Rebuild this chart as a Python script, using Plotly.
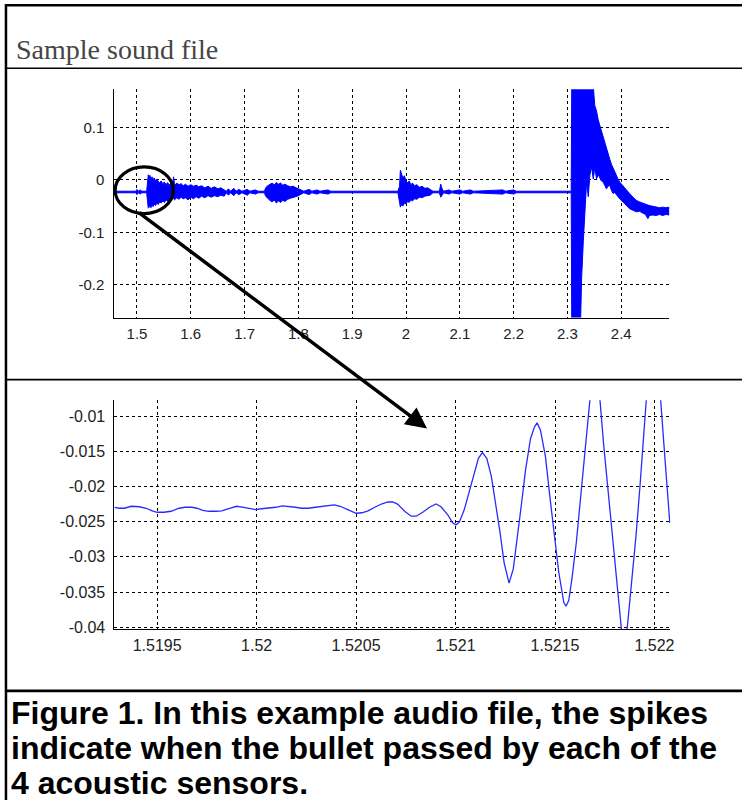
import plotly.graph_objects as go

# ---------------- data: overview recording (envelope of the waveform) ----------------
top_t = [1.458, 1.498, 1.500, 1.503, 1.506, 1.509, 1.518,
         1.5196, 1.5210, 1.5225, 1.5240, 1.5260, 1.5280, 1.5300, 1.5320, 1.5345, 1.5370,
         1.5395, 1.5420, 1.5450, 1.5480, 1.5510, 1.5540, 1.5570, 1.5600, 1.5630, 1.5660,
         1.5680, 1.5700, 1.5740, 1.5780, 1.5820, 1.5860, 1.5900, 1.5950, 1.6000, 1.6050,
         1.6100, 1.6150, 1.6200, 1.6260, 1.6320, 1.6380, 1.6440, 1.6500, 1.6560, 1.6620,
         1.6660, 1.6700, 1.6740, 1.6800, 1.6840, 1.6900, 1.6950, 1.7050, 1.7100, 1.7200,
         1.7250, 1.7370,
         1.7390, 1.7430, 1.7470, 1.7510, 1.7550, 1.7590, 1.7630, 1.7670, 1.7710, 1.7750,
         1.7800, 1.7850, 1.7900, 1.7950, 1.8000, 1.8050, 1.8100, 1.8200, 1.8250, 1.8350,
         1.8400, 1.8550, 1.8600, 1.9850,
         1.9880, 1.9895, 1.9915, 1.9940, 1.9970, 2.0000, 2.0030, 2.0060, 2.0090, 2.0120,
         2.0160, 2.0200, 2.0250, 2.0300, 2.0350, 2.0400, 2.0450, 2.0500, 2.0620, 2.0645,
         2.0670, 2.0700, 2.0800, 2.0850, 2.1000, 2.1050, 2.1200, 2.1250, 2.1800, 2.1850,
         2.2000, 2.2050, 2.3070,
         2.3080, 2.3245, 2.3264, 2.3295, 2.3325, 2.3356, 2.3387, 2.3417, 2.3448, 2.3480,
         2.3509, 2.3541, 2.3572, 2.3602, 2.3633, 2.3664, 2.3695, 2.3725, 2.3755, 2.3786,
         2.3818, 2.3849, 2.3880, 2.3910, 2.3940, 2.3971, 2.4003, 2.4034, 2.4065, 2.4095,
         2.4125, 2.4156, 2.4218, 2.4280, 2.4340, 2.4403, 2.4450, 2.4496, 2.4525, 2.4588,
         2.4649, 2.4710, 2.4773, 2.4830, 2.4895]
top_hi = [-0.0215, -0.0215, -0.018, -0.0215, -0.019, -0.0215, -0.0215,
          0.006, 0.010, 0.004, 0.009, 0.001, 0.006, 0.000, 0.004, -0.002, 0.002,
          -0.003, -0.005, -0.002, -0.007, -0.004, -0.009, -0.005, -0.010, -0.006, -0.011,
          0.006, -0.010, -0.006, -0.009, -0.007, -0.011, -0.008, -0.012, -0.009, -0.012,
          -0.010, -0.013, -0.011, -0.015, -0.012, -0.016, -0.013, -0.017, -0.015, -0.018,
          -0.0215, -0.017, -0.0215, -0.016, -0.0215, -0.018, -0.0215, -0.018, -0.0215, -0.019,
          -0.0215, -0.0215,
          -0.015, -0.011, -0.008, -0.006, -0.009, -0.005, -0.008, -0.006, -0.010, -0.008,
          -0.011, -0.013, -0.012, -0.015, -0.017, -0.019, -0.0215, -0.018, -0.0215, -0.019,
          -0.0215, -0.019, -0.0215, -0.0215,
          -0.012, 0.019, 0.012, 0.004, 0.008, -0.002, -0.005, -0.002, -0.009, -0.006,
          -0.011, -0.009, -0.014, -0.012, -0.016, -0.015, -0.018, -0.0215, -0.0215, -0.008,
          -0.017, -0.0215, -0.019, -0.0215, -0.019, -0.0215, -0.019, -0.0215, -0.019, -0.0215,
          -0.019, -0.0215, -0.0215,
          0.180, 0.180, 0.180, 0.180, 0.180, 0.180, 0.180, 0.180, 0.180, 0.180,
          0.142, 0.132, 0.115, 0.104, 0.092, 0.082, 0.070, 0.063, 0.050, 0.040,
          0.030, 0.022, 0.015, 0.009, 0.002, -0.004, -0.008, -0.011, -0.016, -0.020,
          -0.023, -0.026, -0.033, -0.039, -0.042, -0.045, -0.047, -0.048, -0.049, -0.050,
          -0.052, -0.053, -0.052, -0.053, -0.052]
top_lo = [-0.0245, -0.0245, -0.028, -0.0245, -0.027, -0.0245, -0.0245,
          -0.050, -0.054, -0.052, -0.050, -0.053, -0.048, -0.051, -0.046, -0.049, -0.044,
          -0.047, -0.042, -0.044, -0.040, -0.043, -0.038, -0.041, -0.037, -0.039, -0.035,
          -0.036, -0.038, -0.034, -0.037, -0.033, -0.036, -0.034, -0.038, -0.033, -0.036,
          -0.032, -0.035, -0.031, -0.034, -0.030, -0.033, -0.030, -0.032, -0.029, -0.031,
          -0.0245, -0.029, -0.0245, -0.030, -0.0245, -0.028, -0.0245, -0.029, -0.0245, -0.027,
          -0.0245, -0.0245,
          -0.031, -0.036, -0.039, -0.042, -0.038, -0.044, -0.040, -0.043, -0.039, -0.041,
          -0.037, -0.035, -0.034, -0.032, -0.030, -0.028, -0.0245, -0.028, -0.0245, -0.027,
          -0.0245, -0.027, -0.0245, -0.0245,
          -0.040, -0.052, -0.047, -0.050, -0.044, -0.046, -0.041, -0.043, -0.038, -0.040,
          -0.036, -0.037, -0.033, -0.034, -0.031, -0.030, -0.029, -0.0245, -0.0245, -0.033,
          -0.029, -0.0245, -0.027, -0.0245, -0.027, -0.0245, -0.027, -0.0245, -0.027, -0.0245,
          -0.027, -0.0245, -0.0245,
          -0.270, -0.270, -0.187, -0.118, -0.061, -0.004, -0.032, 0.009, 0.025, 0.002,
          0.024, 0.002, 0.010, 0.005, -0.002, -0.004, -0.010, -0.017, -0.012, -0.010,
          -0.020, -0.026, -0.024, -0.029, -0.032, -0.036, -0.039, -0.042, -0.045, -0.048,
          -0.052, -0.055, -0.058, -0.061, -0.060, -0.064, -0.066, -0.074, -0.068, -0.067,
          -0.068, -0.066, -0.068, -0.066, -0.067]

top_xticks = [1.5, 1.6, 1.7, 1.8, 1.9, 2.0, 2.1, 2.2, 2.3, 2.4]
top_xticklabels = ["1.5", "1.6", "1.7", "1.8", "1.9", "2", "2.1", "2.2", "2.3", "2.4"]
top_yticks = [-0.2, -0.1, 0.0, 0.1]
top_yticklabels = ["-0.2", "-0.1", "0", "0.1"]

# ---------------- data: zoomed detail ----------------
zoom_t = [1.519285, 1.51931, 1.519335, 1.51937, 1.51941, 1.519445, 1.519475, 1.5195,
          1.519535, 1.51957, 1.51961, 1.51964, 1.519675, 1.5197, 1.51973, 1.51976,
          1.519795, 1.519825, 1.51986, 1.5199, 1.519935, 1.51997, 1.519995, 1.520025,
          1.52006, 1.520095, 1.52013, 1.52016, 1.520195, 1.520225, 1.52026, 1.520295,
          1.520325, 1.52036, 1.52039, 1.52042, 1.52045, 1.52048, 1.5205, 1.52053,
          1.52056, 1.520594, 1.520627, 1.52066, 1.520685, 1.52071, 1.520744, 1.520777,
          1.520802, 1.520835, 1.520869, 1.520902, 1.520927, 1.52096, 1.520985, 1.521002,
          1.521019, 1.521044, 1.521069, 1.521094, 1.521115, 1.521135, 1.521157, 1.52118,
          1.521202, 1.521224, 1.521244, 1.521269, 1.52129, 1.52131, 1.52133, 1.521352,
          1.521377, 1.521397, 1.52141, 1.521427, 1.521452, 1.521474, 1.521494, 1.521519,
          1.521544, 1.521555, 1.521569, 1.521585, 1.521607, 1.521627, 1.521647, 1.521665,
          1.52168, 1.52169, 1.5217, 1.52171, 1.521722, 1.521744, 1.521764, 1.521785,
          1.521807, 1.521827, 1.521838, 1.521848, 1.521858, 1.521869, 1.521885, 1.521907,
          1.521927, 1.521947, 1.52196, 1.521985, 1.521995, 1.522005, 1.52203, 1.522047,
          1.522064, 1.522077]
zoom_v = [-0.02295, -0.02309, -0.02309, -0.02281, -0.02288, -0.02309, -0.02347, -0.02366,
          -0.02366, -0.02352, -0.02309, -0.02295, -0.02295, -0.02309, -0.02338, -0.02352,
          -0.02352, -0.02345, -0.02316, -0.02281, -0.02295, -0.02309, -0.02328, -0.02316,
          -0.02309, -0.02295, -0.02274, -0.02281, -0.02295, -0.02309, -0.02309, -0.02295,
          -0.02281, -0.02267, -0.0226, -0.02281, -0.02316, -0.02352, -0.0238, -0.02373,
          -0.02345, -0.02295, -0.02249, -0.0222, -0.0222, -0.02253, -0.02352, -0.02422,
          -0.02422, -0.02366, -0.02295, -0.02249, -0.02288, -0.02398, -0.02517, -0.02545,
          -0.02507, -0.02328, -0.02069, -0.01787, -0.01599, -0.01518, -0.01599, -0.01857,
          -0.02234, -0.02658, -0.03082, -0.03373, -0.03175, -0.02751, -0.02281, -0.01763,
          -0.01316, -0.01151, -0.01095, -0.01198, -0.01575, -0.0214, -0.02658, -0.03223,
          -0.03647, -0.03703, -0.03623, -0.03316, -0.028, -0.02234, -0.01621, -0.01056,
          -0.00633, -0.0048, -0.0040, -0.0048, -0.00633, -0.01387, -0.01999, -0.0261,
          -0.0327, -0.03835, -0.0415, -0.0425, -0.0415, -0.03835, -0.03364, -0.02705,
          -0.01999, -0.01292, -0.00727, -0.0025, -0.0018, -0.0025, -0.00727, -0.01387,
          -0.01999, -0.02517]

zoom_xticks = [1.5195, 1.5200, 1.5205, 1.5210, 1.5215, 1.5220]
zoom_xticklabels = ["1.5195", "1.52", "1.5205", "1.521", "1.5215", "1.522"]
zoom_yticks = [-0.04, -0.035, -0.03, -0.025, -0.02, -0.015, -0.01]
zoom_yticklabels = ["-0.04", "-0.035", "-0.03", "-0.025", "-0.02", "-0.015", "-0.01"]

TITLE = "Sample sound file"
CAPTION = ["Figure 1. In this example audio file, the spikes",
           "indicate when the bullet passed by each of the",
           "4 acoustic sensors."]

# ---------------- layout helpers (page pixels -> paper fraction) ----------------
W, H = 746, 806
def px(x):
    return x / W
def py(y):
    return 1 - y / H

BLUE = "#0000ff"
fig = go.Figure()

fig.add_trace(go.Scatter(x=top_t, y=top_lo, mode="lines", line=dict(color=BLUE, width=1),
                         xaxis="x", yaxis="y", showlegend=False, hoverinfo="skip"))
fig.add_trace(go.Scatter(x=top_t, y=top_hi, mode="lines", line=dict(color=BLUE, width=1),
                         fill="tonexty", fillcolor=BLUE,
                         xaxis="x", yaxis="y", showlegend=False, hoverinfo="skip"))
fig.add_trace(go.Scatter(x=zoom_t, y=zoom_v, mode="lines",
                         line=dict(color="#2a2aff", width=1.3),
                         xaxis="x2", yaxis="y2", showlegend=False))

tickfont = dict(family="Liberation Sans, Arial, sans-serif", size=15, color="#222222")
grid = dict(showgrid=True, gridcolor="black", gridwidth=1, griddash="3px,3px",
            zeroline=False, showline=True, linecolor="black", linewidth=1,
            mirror=False, ticks="", tickfont=tickfont)

fig.update_layout(
    width=W, height=H, margin=dict(l=0, r=0, t=0, b=0),
    paper_bgcolor="white", plot_bgcolor="white",
    xaxis=dict(domain=[px(115), px(673)], range=[1.458, 2.4895], anchor="y",
               tickmode="array", tickvals=top_xticks, ticktext=top_xticklabels,
               ticklabelstandoff=2, **grid),
    yaxis=dict(domain=[py(320), py(90)], range=[-0.2633, 0.1734], anchor="x",
               tickmode="array", tickvals=top_yticks, ticktext=top_yticklabels,
               ticklabelstandoff=6, **grid),
    xaxis2=dict(domain=[px(115), px(674)], range=[1.519285, 1.52208], anchor="y2",
                tickmode="array", tickvals=zoom_xticks, ticktext=zoom_xticklabels,
                ticklabelstandoff=2, **{**grid, "tickfont": dict(tickfont, size=16)}),
    yaxis2=dict(domain=[py(634), py(403.3)], range=[-0.0403, -0.00774], anchor="x2",
                tickmode="array", tickvals=zoom_yticks, ticktext=zoom_yticklabels,
                ticklabelstandoff=5, **{**grid, "tickfont": dict(tickfont, size=16)}),
)

shapes = []
line_kw = dict(type="line", xref="paper", yref="paper", layer="above")
shapes.append(dict(x0=px(6), x1=px(6), y0=py(4), y1=py(806), line=dict(color="black", width=2.5), **line_kw))
shapes.append(dict(x0=px(5), x1=px(746), y0=py(5.3), y1=py(5.3), line=dict(color="black", width=2.5), **line_kw))
shapes.append(dict(x0=px(6), x1=px(746), y0=py(68.8), y1=py(68.8), line=dict(color="black", width=1.6), **line_kw))
shapes.append(dict(x0=px(6), x1=px(746), y0=py(382.5), y1=py(382.5), line=dict(color="black", width=1.6), **line_kw))
shapes.append(dict(x0=px(6), x1=px(746), y0=py(696), y1=py(696), line=dict(color="black", width=2.8), **line_kw))
# highlight ellipse around the first burst
shapes.append(dict(type="circle", xref="paper", yref="paper", layer="above",
                   x0=px(115.8), x1=px(174.2), y0=py(215.2), y1=py(168.2),
                   line=dict(color="black", width=3.2)))
fig.update_layout(shapes=shapes)

ann = []
ann.append(dict(text=TITLE, x=px(14), y=py(50), xref="paper", yref="paper",
                xanchor="left", yanchor="middle", showarrow=False,
                font=dict(family="Liberation Serif, serif", size=28, color="#454545")))
for i, line in enumerate(CAPTION):
    ann.append(dict(text="<b>" + line + "</b>", x=px(9), y=py(718.5 + 35 * i),
                    xref="paper", yref="paper", xanchor="left", yanchor="middle",
                    showarrow=False,
                    font=dict(family="Liberation Sans, Arial, sans-serif", size=32, color="black")))
# arrow from ellipse to the zoomed view
ann.append(dict(text="", x=px(429.3), y=py(431.7), xref="paper", yref="paper",
                ax=140 - 429.3, ay=215 - 431.7, axref="pixel", ayref="pixel",
                showarrow=True, arrowhead=2, arrowsize=1.2, arrowwidth=3.5,
                arrowcolor="black", standoff=0, startstandoff=0))
fig.update_layout(annotations=ann)

fig.write_html("out.html", config={"displayModeBar": False},
               post_script="document.body.style.margin='0';document.body.style.padding='0';")
